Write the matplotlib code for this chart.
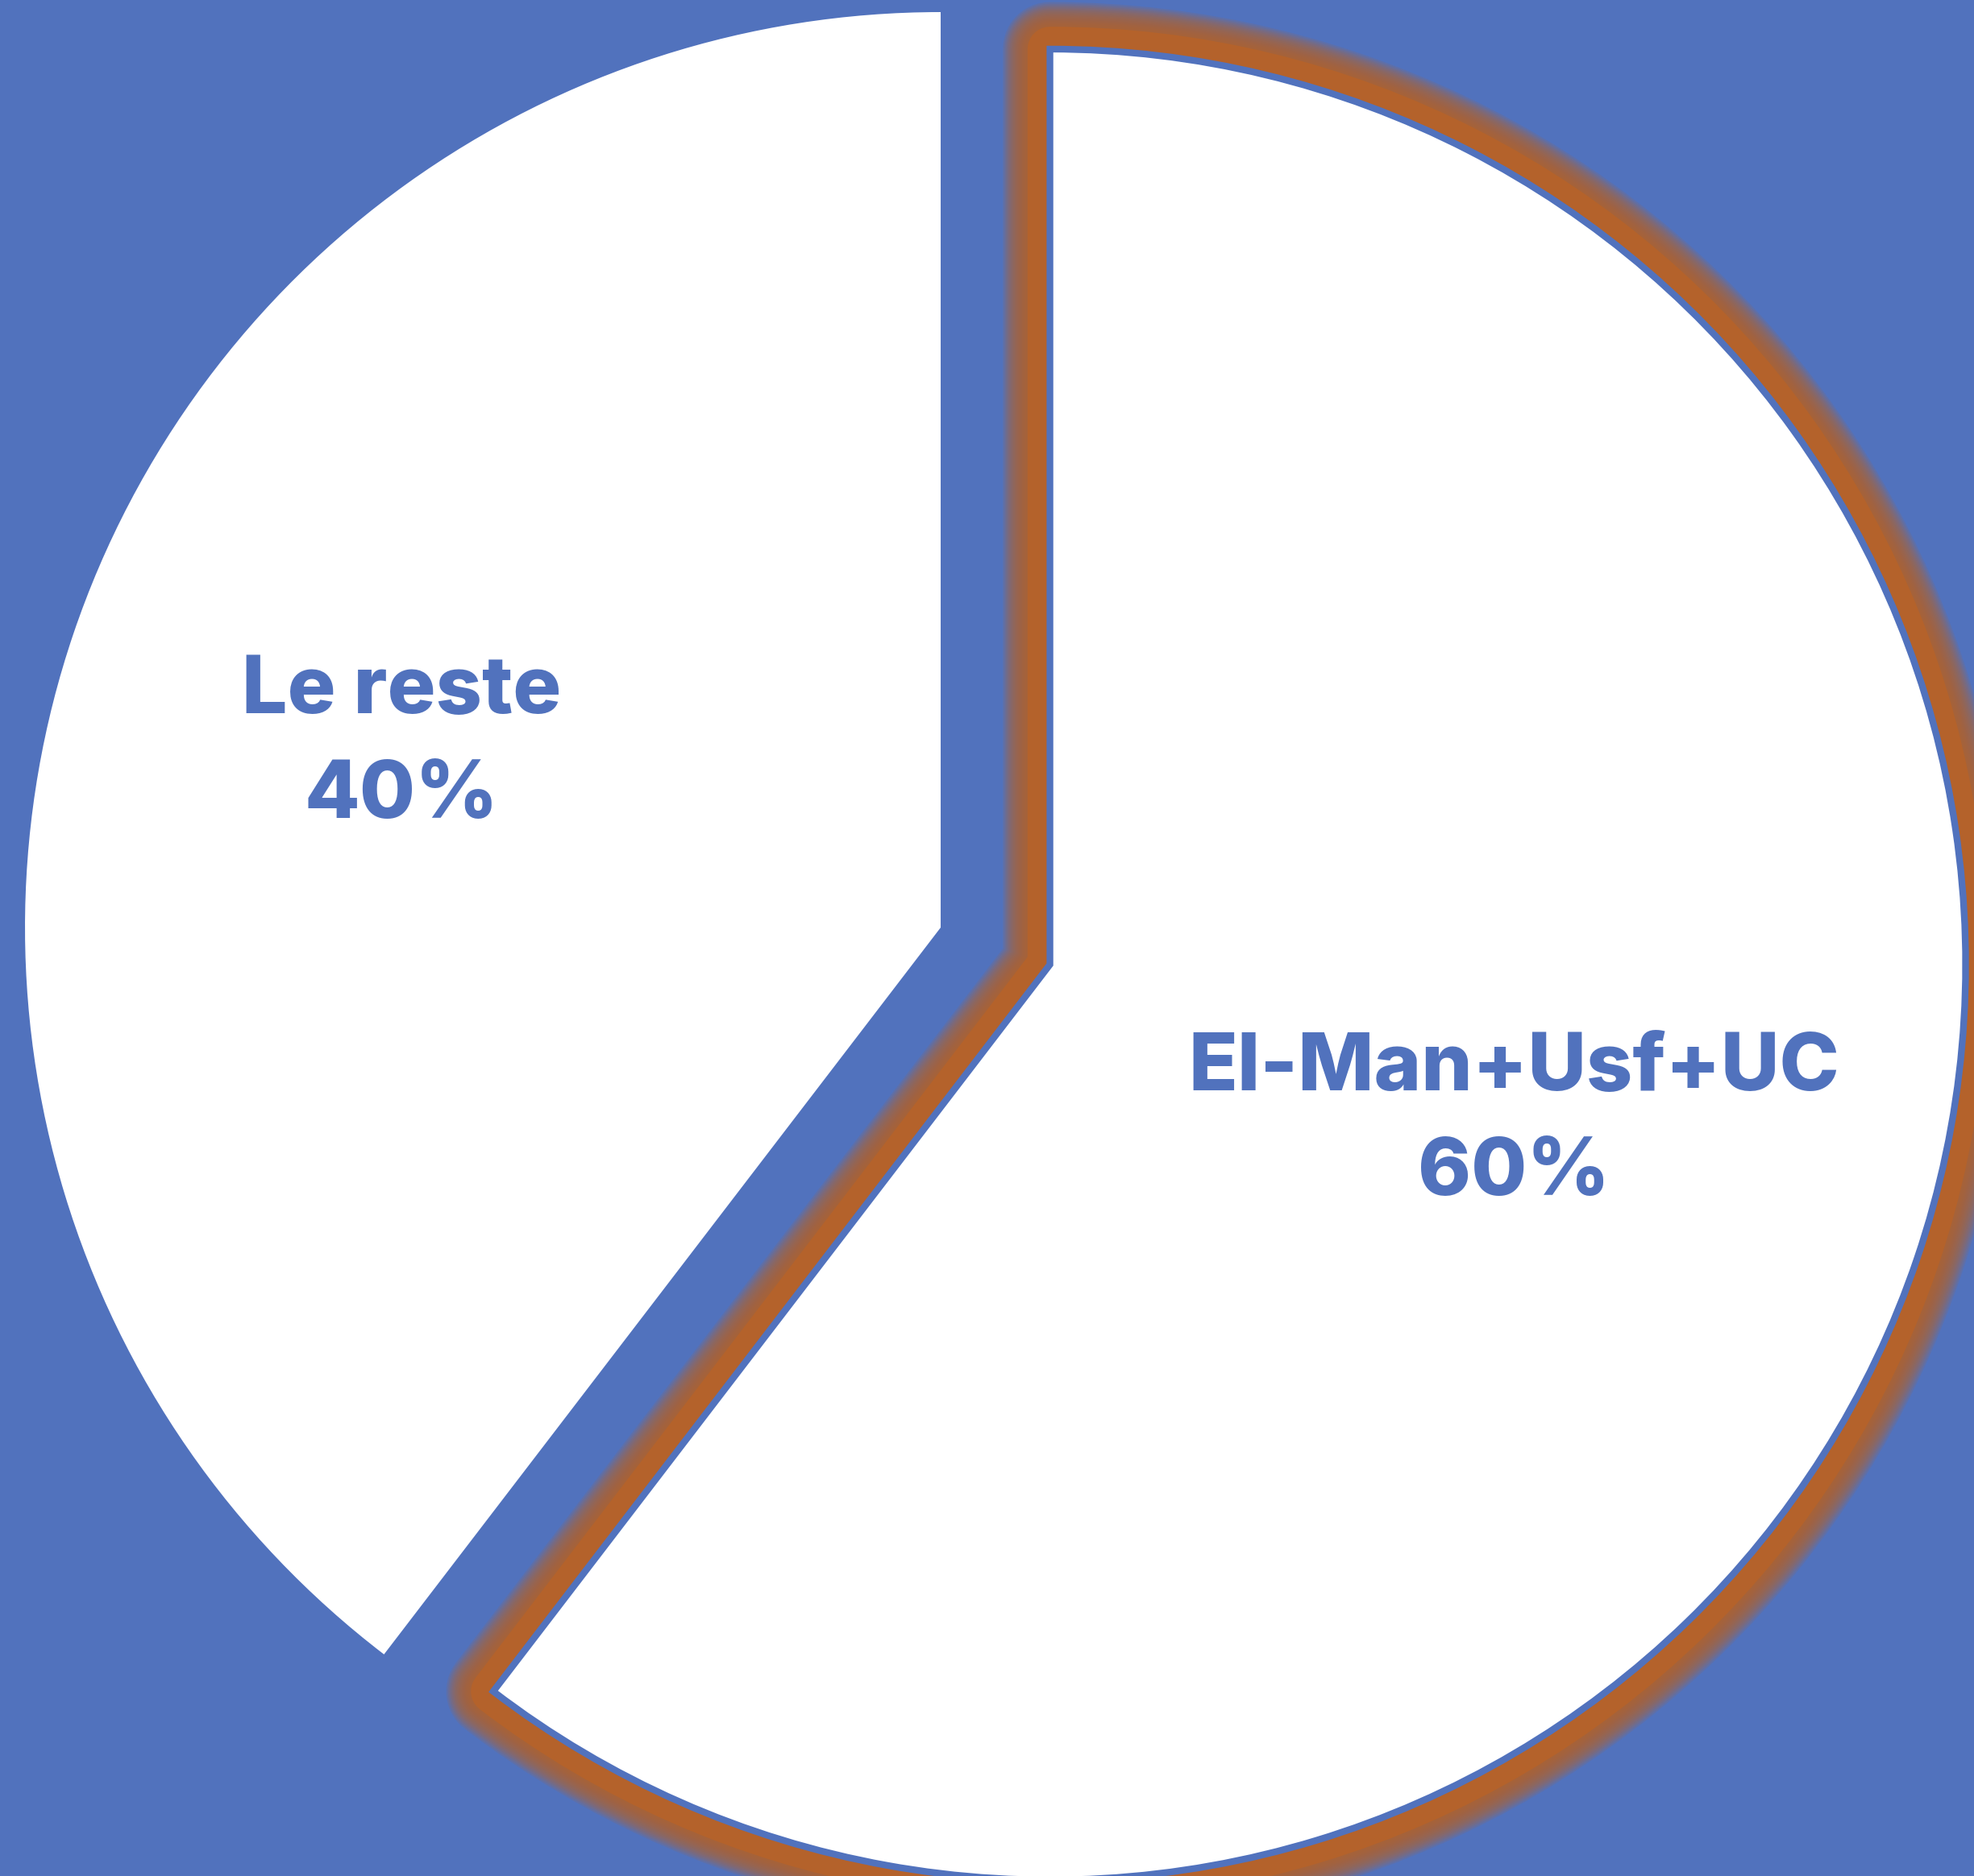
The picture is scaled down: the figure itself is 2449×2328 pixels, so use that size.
import matplotlib
matplotlib.use("Agg")
import matplotlib.pyplot as plt
import matplotlib.patheffects as pe
import numpy as np

# ---- data ----
labels = ["El-Man+Usf+UC", "Le reste"]
values = [60.4, 39.6]
explode = [0.126, 0.0]
label_dist = [0.535, 0.622]

BLUE = "#5172BD"
ORANGE = "#B4622B"

fig = plt.figure(figsize=(24.49, 23.28), dpi=100, facecolor=BLUE)
ax = fig.add_axes([0, 0, 1, 1])
ax.set_facecolor(BLUE)

wedges, _ = ax.pie(values, explode=explode, startangle=90, counterclock=False,
                   colors=["white", "white"], radius=1.0,
                   wedgeprops=dict(linewidth=0))

# highlight the exploded wedge: thin blue edge + soft orange glow
w = wedges[0]
w.set_edgecolor(BLUE)
w.set_linewidth(6)
w.set_joinstyle("miter")
effects = []
glow_widths = np.linspace(84, 44, 14)
for lw in glow_widths:
    effects.append(pe.Stroke(linewidth=lw, foreground=ORANGE, alpha=0.14, joinstyle="round"))
effects.append(pe.Stroke(linewidth=40, foreground=ORANGE, joinstyle="round"))
effects.append(pe.Normal())
w.set_path_effects(effects)
w.set_zorder(2)
wedges[1].set_zorder(3)

for wd, lab, val, d in zip(wedges, labels, values, label_dist):
    th = np.deg2rad((wd.theta1 + wd.theta2) / 2)
    cx, cy = wd.center
    x = cx + d * wd.r * np.cos(th)
    y = cy + d * wd.r * np.sin(th)
    ax.text(x, y, f"{lab}\n{round(val)}%", ha="center", va="center", multialignment="center",
            fontsize=72, fontweight="heavy", family=["Inter", "Lato", "DejaVu Sans"], color=BLUE,
            linespacing=1.52, zorder=5)

ax.set_xlim(-1.0273, 1.1285)
ax.set_ylim(-1.0361, 1.0132)
ax.set_aspect("equal", adjustable="datalim")
ax.axis("off")

fig.savefig("out.png", dpi=100, facecolor=BLUE)
